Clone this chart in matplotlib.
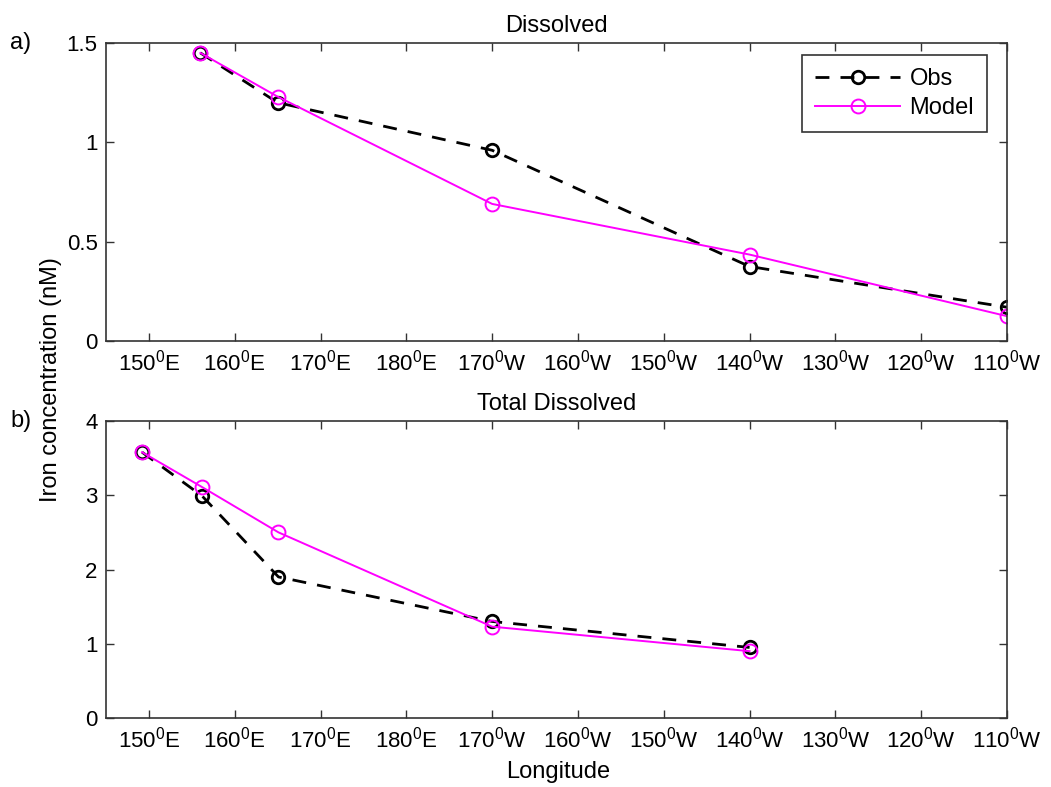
import numpy as np
import matplotlib
matplotlib.use('Agg')
import matplotlib.pyplot as plt

plt.rcParams['font.family'] = ['Liberation Sans', 'DejaVu Sans']
plt.rcParams['mathtext.fontset'] = 'custom'
plt.rcParams['mathtext.rm'] = 'Liberation Sans'

# longitude in degrees east (0-360)
lon_a = [156, 165, 190, 220, 250]
obs_a = [1.45, 1.20, 0.96, 0.375, 0.17]
mod_a = [1.45, 1.23, 0.69, 0.435, 0.125]

lon_b = [149.2, 156.2, 165.1, 190, 220]
obs_b = [3.58, 2.99, 1.90, 1.30, 0.95]
mod_b = [3.58, 3.11, 2.50, 1.23, 0.90]

xticks = [150, 160, 170, 180, 190, 200, 210, 220, 230, 240, 250]
xlabels = ['150$^0$E', '160$^0$E', '170$^0$E', '180$^0$E', '170$^0$W', '160$^0$W',
           '150$^0$W', '140$^0$W', '130$^0$W', '120$^0$W', '110$^0$W']

fig = plt.figure(figsize=(10.51, 7.87), dpi=100)
W, H = 1051, 787
axa = fig.add_axes([106 / W, 1 - 341 / H, 901 / W, 298 / H])
axb = fig.add_axes([106 / W, 1 - 718 / H, 901 / W, 297 / H])

fs = 17   # titles, labels
tfs = 16  # tick labels
for ax, lon, obs, mod, ylim, yt, title, lab in [
        (axa, lon_a, obs_a, mod_a, (0, 1.5), [0, 0.5, 1, 1.5], 'Dissolved', 'a)'),
        (axb, lon_b, obs_b, mod_b, (0, 4), [0, 1, 2, 3, 4], 'Total Dissolved', 'b)')]:
    ax.plot(lon, obs, '--o', color='k', lw=2, ms=9, mfc='none', mew=2,
            dashes=(5, 4), label='Obs')
    ax.plot(lon, mod, '-o', color='#ff00ff', lw=1.4, ms=10, mfc='none', mew=1.4,
            label='Model')
    ax.set_xlim(145, 250)
    ax.set_ylim(*ylim)
    ax.set_yticks(yt)
    ax.set_yticklabels([('%g' % v) for v in yt])
    ax.set_xticks(xticks)
    ax.set_xticklabels(xlabels)
    ax.tick_params(direction='in', top=True, right=True, labelsize=tfs,
                   length=6, width=1, color='#333333', pad=6)
    for s in ax.spines.values():
        s.set_color('#333333')
        s.set_linewidth(1.2)
    ax.set_title(title, fontsize=fs, pad=8)
    fig.text(21 / W, ax.get_position().y1, lab, fontsize=fs, ha='center', va='center')

leg = axa.legend(loc='upper right', bbox_to_anchor=(0.978, 0.96), borderaxespad=0,
                 fontsize=fs, fancybox=False, edgecolor='#333333', framealpha=1,
                 handlelength=3.6, borderpad=0.55, labelspacing=0.3, handletextpad=0.4)
leg.get_frame().set_linewidth(1.2)

fig.text(51 / W, 1 - 380 / H, 'Iron concentration (nM)', rotation=90,
         fontsize=fs, ha='center', va='center')
fig.text(558 / W, 1 - 772 / H, 'Longitude', fontsize=fs, ha='center', va='center')

fig.savefig('out.png', dpi=100)
